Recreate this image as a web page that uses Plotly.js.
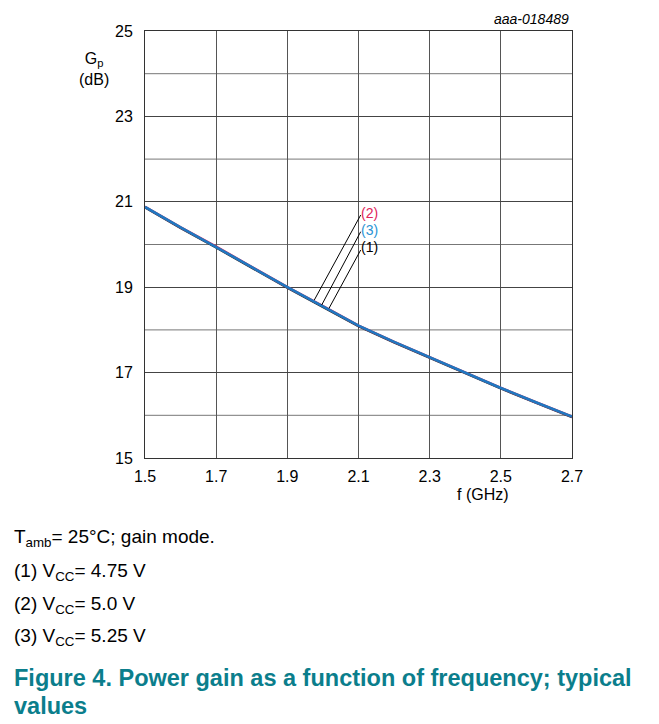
<!DOCTYPE html>
<html><head><meta charset="utf-8">
<script src="https://cdn.plot.ly/plotly-3.0.1.min.js"></script>
<style>html,body{margin:0;padding:0;background:#fff}#bar{position:absolute;left:0;top:0;width:3px;height:724px;background:#b9dde6}#chart{width:659px;height:724px}</style>
</head><body><div id="bar"></div><div id="chart"></div>
<script>
const freq = [1.5,1.6,1.7,1.8,1.9,2.0,2.1,2.2,2.3,2.4,2.5,2.6,2.7];
const gainV475 = [20.87,20.39,19.93,19.46,18.99,18.54,18.09,17.71,17.35,16.99,16.63,16.29,15.96];
const gainV500 = [20.88,20.40,19.95,19.47,19.00,18.56,18.10,17.72,17.36,17.00,16.64,16.30,15.97];
const gainV525 = [20.88,20.40,19.94,19.47,19.00,18.55,18.10,17.72,17.36,17.00,16.64,16.30,15.97];
const xTicks = [1.5,1.7,1.9,2.1,2.3,2.5,2.7];
const yTicks = [15,17,19,21,23,25];
const seriesLabels = ['(1)','(2)','(3)'];

const F = 'Liberation Sans, Arial, sans-serif';
const data = [
  {x:freq,y:gainV475,mode:'lines',line:{color:'#222',width:2.5},hoverinfo:'skip'},
  {x:freq,y:gainV500,mode:'lines',line:{color:'#d9265c',width:2.5},hoverinfo:'skip'},
  {x:freq,y:gainV525,mode:'lines',line:{color:'#1f78c1',width:2.6},hoverinfo:'skip'}
];
const px2x = p => 1.5 + (p-145)/427*1.2;
const px2y = p => 25 - (p-31)/42.7;
const leaders = [[360.7,215,314.3,300],[360.7,231.7,321.7,305],[360.7,250,329,308.3]];
const shapes = leaders.map(l=>({type:'line',xref:'x',yref:'y',x0:px2x(l[0]),y0:px2y(l[1]),x1:px2x(l[2]),y1:px2y(l[3]),line:{color:'#000',width:1}}));
const lblCol = ['#000','#e0245a','#2a93d4'];
const lblY = [247,213,230];
const ann = [];
seriesLabels.forEach((t,i)=>ann.push({xref:'x',yref:'y',x:px2x(358.5),y:px2y(lblY[i]),text:t,showarrow:false,xanchor:'left',yanchor:'middle',font:{family:F,size:14,color:lblCol[i]}}));
const pxX = p => (p-145)/427;
const pxY = p => (458-p)/427;
ann.push({xref:'paper',yref:'paper',x:pxX(571),y:pxY(19),text:'<i>aaa-018489</i>',showarrow:false,xanchor:'right',yanchor:'middle',font:{family:F,size:14,color:'#000'}});
ann.push({xref:'paper',yref:'paper',x:pxX(94),y:pxY(69),text:'G<sub>p</sub><br>(dB)',showarrow:false,xanchor:'center',yanchor:'middle',font:{family:F,size:16,color:'#000'}});
ann.push({xref:'paper',yref:'paper',x:pxX(483),y:pxY(494),text:'f (GHz)',showarrow:false,xanchor:'center',yanchor:'middle',font:{family:F,size:16,color:'#000'}});
const notes = [['T<sub>amb</sub>= 25°C; gain mode.',538],['(1) V<sub>CC</sub>= 4.75 V',572],['(2) V<sub>CC</sub>= 5.0 V',605],['(3) V<sub>CC</sub>= 5.25 V',637]];
notes.forEach(n=>ann.push({xref:'paper',yref:'paper',x:pxX(12),y:pxY(n[1]),text:n[0],showarrow:false,xanchor:'left',yanchor:'middle',font:{family:F,size:19,color:'#000'}}));
ann.push({xref:'paper',yref:'paper',x:pxX(12),y:pxY(678),text:'<b>Figure 4. Power gain as a function of frequency; typical</b>',showarrow:false,xanchor:'left',yanchor:'middle',font:{family:F,size:23.5,color:'#0b7e8c'}});
ann.push({xref:'paper',yref:'paper',x:pxX(12),y:pxY(706),text:'<b>values</b>',showarrow:false,xanchor:'left',yanchor:'middle',font:{family:F,size:23.5,color:'#0b7e8c'}});

const layout = {
  width:659,height:724,margin:{l:145,r:87,t:31,b:266},
  paper_bgcolor:'#fff',plot_bgcolor:'#fff',showlegend:false,
  xaxis:{range:[1.5,2.7],tickvals:xTicks,ticktext:xTicks.map(v=>v.toFixed(1)),showgrid:true,gridcolor:'#555',gridwidth:1,
    showline:true,linecolor:'#333',linewidth:1,mirror:true,ticks:'',zeroline:false,tickfont:{family:F,size:16,color:'#000'},ticklabelstandoff:4},
  yaxis:{range:[15,25],tickvals:yTicks,showgrid:true,gridcolor:'#444',gridwidth:1,
    showline:true,linecolor:'#333',linewidth:1,mirror:true,ticks:'',zeroline:false,tickfont:{family:F,size:16,color:'#000'},ticklabelstandoff:8},
  shapes:shapes.concat([16,18,20,22,24].map(v=>({type:'line',xref:'paper',yref:'y',x0:0,x1:1,y0:v,y1:v,layer:'below',line:{color:'#777',width:1}}))),
  annotations:ann
};
Plotly.newPlot('chart',data,layout,{displayModeBar:false,staticPlot:true});
</script></body></html>
